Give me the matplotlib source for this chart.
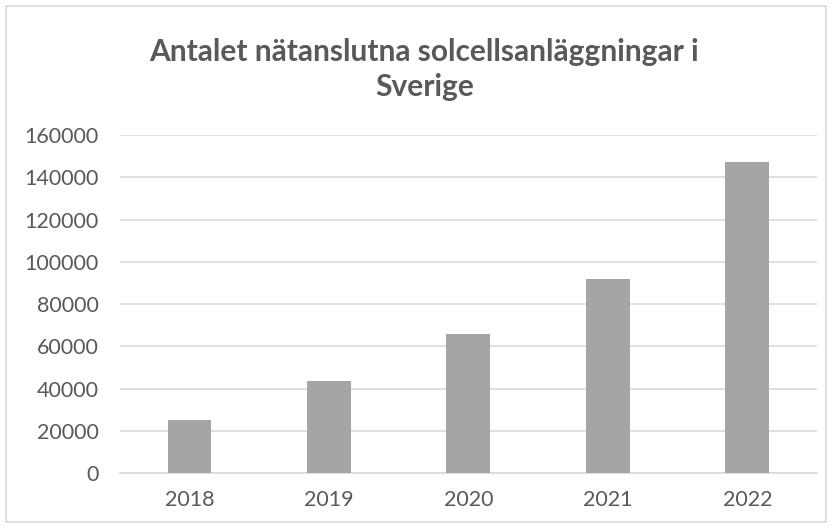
import matplotlib
matplotlib.use("Agg")
import matplotlib.pyplot as plt
from matplotlib.patches import Rectangle

# data
years = ["2018", "2019", "2020", "2021", "2022"]
installations = [25200, 43800, 65700, 92100, 147300]
yticks = [0, 20000, 40000, 60000, 80000, 100000, 120000, 140000, 160000]

TEXT = "#595959"
GRID = "#d9d9d9"
BAR = "#a5a5a5"

plt.rcParams["font.family"] = ["Lato", "DejaVu Sans"]

fig = plt.figure(figsize=(8.32, 5.28), dpi=100)
ax = fig.add_axes([0.144, 0.104, 0.838, 0.640])

x = range(len(years))
ax.bar(x, installations, width=0.315, color=BAR, zorder=3)

ax.set_xlim(-0.5, len(years) - 0.5)
ax.set_ylim(0, 160000)
ax.set_yticks(yticks)
ax.set_yticklabels([str(v) for v in yticks])
ax.set_xticks(list(x))
ax.set_xticklabels(years)
ax.tick_params(axis="both", length=0, labelsize=15.5, colors=TEXT)
ax.tick_params(axis="y", pad=15)
ax.tick_params(axis="x", pad=12)
ax.yaxis.grid(True, color=GRID, linewidth=1.2, zorder=0)
for side in ["top", "right", "left"]:
    ax.spines[side].set_visible(False)
ax.spines["bottom"].set_color(GRID)
ax.spines["bottom"].set_linewidth(1.2)

fig.text(0.51, 0.869, "Antalet nätanslutna solcellsanläggningar i\nSverige",
         ha="center", va="center", fontsize=21.5, fontweight="bold",
         color=TEXT, linespacing=1.3)

# chart frame
fig.patches.append(Rectangle((6 / 832, 6 / 528), 820 / 832, 516 / 528,
                             transform=fig.transFigure, fill=False,
                             edgecolor=GRID, linewidth=1.2))

fig.savefig("out.png", dpi=100)
